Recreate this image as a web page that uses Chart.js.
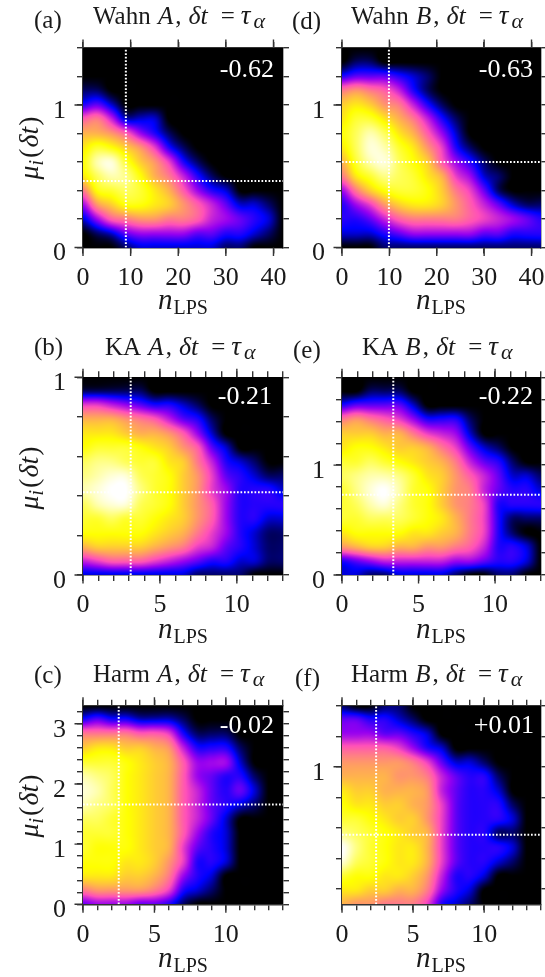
<!DOCTYPE html>
<html>
<head>
<meta charset="utf-8">
<title>LPS maps</title>
<script src="https://cdn.jsdelivr.net/npm/chart.js@4/dist/chart.umd.min.js"></script>
<style>
  html, body { margin: 0; padding: 0; background: #fff; }
  #page { position: relative; width: 545px; height: 977px; overflow: hidden; }
  canvas { position: absolute; }
</style>
</head>
<body>
<div id="page"></div>
<script>
// tick lists
const xMajorWahn = [0, 10, 20, 30, 40];
const xMinorWahn = [0, 10, 20, 30, 40];
const xMajorKA = [0, 5, 10];
const xMinorKA = [0, 1, 2, 3, 4, 5, 6, 7, 8, 9, 10, 11, 12, 13];
const xMajorHarm = [0, 5, 10];
const xMinorHarm = [0, 1, 2, 3, 4, 5, 6, 7, 8, 9, 10, 11, 12, 13, 14];
const yMajorWahn = [0, 1];
const yMinorWahn = [0, 0.2, 0.4, 0.6, 0.8, 1, 1.2, 1.4];
const yMajorKAA = [0, 1];
const yMinorKAA = [0, 0.2, 0.4, 0.6, 0.8, 1];
const yMajorKAB = [0, 1];
const yMinorKAB = [0, 0.2, 0.4, 0.6, 0.8, 1, 1.2, 1.4, 1.6, 1.8];
const yMajorHarmA = [0, 1, 2, 3];
const yMinorHarmA = [0, 0.2, 0.4, 0.6, 0.8, 1, 1.2, 1.4, 1.6, 1.8, 2, 2.2, 2.4, 2.6, 2.8, 3, 3.2];
const yMajorHarmB = [1];
const yMinorHarmB = [0.2, 0.4, 0.6, 0.8, 1, 1.2, 1.4];

// density, top row first, 0 = black ... 20 = white
const gridWahnA = [
  [0,0,0,0,0,0,0,0,0,0,0,0,0,0,0],
  [0,0,0,0,0,0,0,0,0,0,0,0,0,0,0],
  [0,0,0,0,0,0,0,0,0,0,0,0,0,0,0],
  [1,1,0,0,0,0,0,0,0,0,0,0,0,0,0],
  [3,4,2,0,0,0,0,0,0,0,0,0,0,0,0],
  [8,9,6,2,2,2,0,0,0,0,0,0,0,0,0],
  [11,11,10,8,5,3,1,0,0,0,0,0,0,0,0],
  [13,15,14,12,10,7,3,1,0,0,0,0,0,0,0],
  [14,18,19,15,12,10,7,3,1,0,0,0,0,0,0],
  [13,16,18,17,14,11,9,6,3,1,0,0,0,0,0],
  [9,14,15,16,15,13,11,8,5,3,2,0,0,0,0],
  [5,10,12,14,14,13,12,10,8,6,4,2,2,1,0],
  [2,5,8,9,10,10,9,9,8,6,5,4,3,2,0],
  [0,1,2,4,5,5,5,5,4,4,3,3,2,1,0],
  [0,0,0,1,2,2,2,2,2,2,1,1,0,0,0]
];
const gridWahnB = [
  [0,0,0,0,0,0,0,0,0,0,0,0,0,0,0],
  [0,1,1,0,0,0,0,0,0,0,0,0,0,0,0],
  [3,4,4,4,3,2,1,0,0,0,0,0,0,0,0],
  [9,10,9,8,6,3,1,0,0,0,0,0,0,0,0],
  [12,13,12,10,9,6,3,1,0,0,0,0,0,0,0],
  [13,15,15,13,11,9,6,3,1,0,0,0,0,0,0],
  [14,16,18,16,13,11,8,5,2,0,0,0,0,0,0],
  [13,16,19,18,15,13,10,7,3,1,0,0,0,0,0],
  [11,15,18,19,16,14,12,8,5,3,1,0,0,0,0],
  [9,13,15,17,16,15,13,11,7,5,2,1,0,0,0],
  [5,9,12,14,15,15,14,12,9,7,4,1,0,0,0],
  [3,5,7,10,12,13,13,12,10,8,6,4,2,1,1],
  [3,3,4,6,8,9,9,9,9,8,7,6,5,4,3],
  [2,2,2,3,4,5,5,5,5,5,4,4,3,3,3],
  [0,0,0,1,1,1,1,1,1,1,1,1,1,1,1]
];
const gridKAA = [
  [0,0,0,0,0,0,0,0,0,0,0,0,0,0,0],
  [1,1,1,1,1,0,0,0,0,0,0,0,0,0,0],
  [7,7,6,5,4,3,3,2,1,0,0,0,0,0,0],
  [11,11,11,10,9,8,6,4,3,1,0,0,0,0,0],
  [13,13,13,12,11,11,10,8,5,2,0,0,0,0,0],
  [14,15,15,15,14,13,12,10,8,4,2,0,0,0,0],
  [16,17,17,16,15,15,13,12,9,6,3,2,1,0,0],
  [17,18,19,19,16,15,14,12,10,7,4,3,2,1,1],
  [18,19,20,20,17,15,14,12,10,7,5,3,3,3,2],
  [16,18,19,19,16,15,14,12,10,8,5,3,3,3,3],
  [15,15,16,15,15,14,13,12,10,8,5,3,3,2,2],
  [14,14,14,14,14,13,12,11,9,7,5,3,2,1,1],
  [11,12,12,12,12,11,10,9,7,6,4,3,2,1,1],
  [6,7,8,8,8,7,6,5,4,3,3,2,2,1,1],
  [2,2,2,2,2,2,2,2,1,1,1,1,0,0,0]
];
const gridKAB = [
  [0,0,0,0,0,0,0,0,0,0,0,0,0,0,0],
  [0,0,1,1,1,0,0,0,0,0,0,0,0,0,0],
  [3,4,4,4,4,2,0,0,0,0,0,0,0,0,0],
  [9,10,9,8,7,5,3,3,3,1,0,0,0,0,0],
  [12,12,12,11,11,9,7,6,5,2,0,0,0,0,0],
  [13,14,14,13,12,12,11,9,7,4,2,1,0,0,0],
  [15,15,16,15,14,13,12,11,9,6,4,3,1,0,0],
  [16,17,18,18,17,15,13,12,10,8,6,4,2,2,1],
  [15,17,19,20,18,15,14,12,10,9,6,4,3,3,2],
  [15,16,18,19,17,15,14,12,10,9,7,3,3,3,3],
  [15,15,16,16,16,15,14,13,11,9,7,3,1,1,1],
  [13,14,14,14,14,13,13,12,11,9,7,3,1,0,0],
  [10,11,12,12,11,11,10,10,9,8,6,3,3,2,0],
  [3,4,5,6,6,6,6,6,5,5,4,3,3,2,0],
  [2,2,1,1,2,2,2,2,1,0,0,1,1,0,0]
];
const gridHarmA = [
  [0,0,0,0,0,0,0,0,0,0,0,0,0,0,0],
  [3,4,3,3,2,2,2,1,0,0,0,0,0,0,0],
  [9,9,9,9,8,8,7,3,1,1,1,0,0,0,0],
  [12,13,13,12,12,11,10,6,3,3,3,1,0,0,0],
  [15,15,15,14,13,12,11,8,5,5,5,2,0,0,0],
  [18,17,16,14,13,12,11,8,5,4,3,3,1,0,0],
  [19,18,16,14,13,12,11,8,6,4,3,4,2,0,0],
  [18,17,16,14,13,12,11,8,6,4,3,2,1,0,0],
  [16,16,15,14,13,12,11,8,6,4,2,0,0,0,0],
  [15,15,15,14,13,12,11,8,5,3,2,0,0,0,0],
  [15,14,14,14,13,12,11,7,4,3,2,0,0,0,0],
  [14,14,14,13,13,12,10,7,3,3,2,0,0,0,0],
  [13,13,13,12,12,11,9,5,3,2,0,0,0,0,0],
  [9,10,10,10,10,9,7,3,2,1,0,0,0,0,0],
  [4,5,5,5,4,4,3,1,0,0,0,0,0,0,0]
];
const gridHarmB = [
  [1,0,0,1,1,0,0,0,0,0,0,0,0,0,0],
  [4,4,3,3,2,1,0,0,0,0,0,0,0,0,0],
  [5,5,5,4,4,3,2,0,0,0,0,0,0,0,0],
  [8,8,8,8,7,5,3,2,0,0,0,0,0,0,0],
  [10,10,10,10,10,9,7,4,2,2,1,0,0,0,0],
  [11,11,11,11,10,10,9,6,4,3,3,1,0,0,0],
  [13,12,12,11,11,11,10,6,4,3,3,2,0,0,0],
  [14,13,13,12,12,11,10,7,4,3,3,3,1,0,0],
  [15,15,14,13,12,12,10,7,4,3,3,3,2,0,0],
  [17,16,15,14,13,12,11,7,4,3,3,1,1,0,0],
  [20,17,15,14,13,13,11,7,4,3,3,3,2,0,0],
  [19,16,15,14,13,13,11,7,4,3,3,2,1,0,0],
  [15,14,14,13,13,12,10,6,3,3,2,0,0,0,0],
  [13,13,12,12,11,11,9,5,3,2,0,0,0,0,0],
  [11,10,10,9,9,9,7,3,2,1,0,0,0,0,0]
];

// colour map stops: density, r, g, b
const colorStops = [
  [0, 0, 0, 0], [2.4, 0, 0, 255], [4.8, 150, 0, 240], [7.5, 255, 80, 185],
  [10.5, 255, 165, 90], [13.8, 255, 255, 0], [20, 255, 255, 255]
];

const serif = '"Liberation Serif", serif';
const tickFont = 26;

const panels = [
  { tag: '(a)', name: 'Wahn ', kind: 'A', stat: '-0.62', grid: gridWahnA, xMax: 42, yMin: 0, yMax: 1.4, vLine: 9, hLine: 0.467,
    xMajor: xMajorWahn, xMinor: xMinorWahn, yMajor: yMajorWahn, yMinor: yMinorWahn,
    box: [0, 0, 292, 325], plot: [83, 48, 283, 247.5], tagX: 34, tagY: 28, titleX: 93, titleY: 24, statX: 274, statY: 77, yTitle: 148, xTitle: 183, xTitleY: 309 },
  { tag: '(b)', name: 'KA ', kind: 'A', stat: '-0.21', grid: gridKAA, xMax: 13, yMin: 0, yMax: 1, vLine: 3.1, hLine: 0.418,
    xMajor: xMajorKA, xMinor: xMinorKA, yMajor: yMajorKAA, yMinor: yMinorKAA,
    box: [0, 325, 292, 325], plot: [83, 377.3, 283, 575], tagX: 34, tagY: 355, titleX: 105, titleY: 355, statX: 272, statY: 404, yTitle: 478, xTitle: 183, xTitleY: 638 },
  { tag: '(c)', name: 'Harm ', kind: 'A', stat: '-0.02', grid: gridHarmA, xMax: 14, yMin: 0, yMax: 3.3, vLine: 2.5, hLine: 1.66,
    xMajor: xMajorHarm, xMinor: xMinorHarm, yMajor: yMajorHarmA, yMinor: yMinorHarmA,
    box: [0, 650, 292, 327], plot: [83, 705.7, 283, 904.3], tagX: 34, tagY: 683, titleX: 93, titleY: 682, statX: 274, statY: 733, yTitle: 806, xTitle: 183, xTitleY: 967 },
  { tag: '(d)', name: 'Wahn ', kind: 'B', stat: '-0.63', grid: gridWahnB, xMax: 42, yMin: 0, yMax: 1.4, vLine: 9.9, hLine: 0.6,
    xMajor: xMajorWahn, xMinor: xMinorWahn, yMajor: yMajorWahn, yMinor: yMinorWahn,
    box: [285, 0, 260, 325], plot: [342, 48, 541, 247.5], tagX: 292, tagY: 29, titleX: 351, titleY: 24, statX: 533, statY: 77, xTitle: 441, xTitleY: 309 },
  { tag: '(e)', name: 'KA ', kind: 'B', stat: '-0.22', grid: gridKAB, xMax: 13, yMin: 0, yMax: 1.8, vLine: 3.35, hLine: 0.73,
    xMajor: xMajorKA, xMinor: xMinorKA, yMajor: yMajorKAB, yMinor: yMinorKAB,
    box: [285, 325, 260, 325], plot: [342, 377.3, 541, 575], tagX: 293, tagY: 358, titleX: 362, titleY: 355, statX: 533, statY: 404, xTitle: 441, xTitleY: 638 },
  { tag: '(f)', name: 'Harm ', kind: 'B', stat: '+0.01', grid: gridHarmB, xMax: 14, yMin: 0.1, yMax: 1.4, vLine: 2.4, hLine: 0.555,
    xMajor: xMajorHarm, xMinor: xMinorHarm, yMajor: yMajorHarmB, yMinor: yMinorHarmB,
    box: [285, 650, 260, 327], plot: [342, 705.7, 541, 904.3], tagX: 295, tagY: 686, titleX: 351, titleY: 682, statX: 534, statY: 733, xTitle: 441, xTitleY: 967 }
];

function densityColor(v) {
  for (let i = 1; i < colorStops.length; i++) {
    if (v <= colorStops[i][0]) {
      const a = colorStops[i - 1], b = colorStops[i];
      const t = (v - a[0]) / (b[0] - a[0]);
      return [a[1] + (b[1] - a[1]) * t, a[2] + (b[2] - a[2]) * t, a[3] + (b[3] - a[3]) * t];
    }
  }
  return [255, 255, 255];
}

function catmull(p0, p1, p2, p3, t) {
  return p1 + 0.5 * t * (p2 - p0 + t * (2 * p0 - 5 * p1 + 4 * p2 - p3 + t * (3 * (p1 - p2) + p3 - p0)));
}

function sampleGrid(grid, u, v) {
  const rows = grid.length, cols = grid[0].length;
  const cx = Math.min(Math.floor(u), cols - 2), cy = Math.min(Math.floor(v), rows - 2);
  const tx = u - cx, ty = v - cy;
  const at = (r, c) => grid[Math.max(0, Math.min(rows - 1, r))][Math.max(0, Math.min(cols - 1, c))];
  const line = [];
  for (let r = -1; r <= 2; r++) {
    line.push(catmull(at(cy + r, cx - 1), at(cy + r, cx), at(cy + r, cx + 1), at(cy + r, cx + 2), tx));
  }
  return Math.max(0, Math.min(20, catmull(line[0], line[1], line[2], line[3], ty)));
}

// heat map painted pixel by pixel through the chart's own scales
const heatPlugin = {
  id: 'heat',
  beforeDatasetsDraw(chart) {
    const p = chart.config.options.panel, a = chart.chartArea, sx = chart.scales.x, sy = chart.scales.y;
    const rows = p.grid.length, cols = p.grid[0].length;
    const x0 = Math.round(a.left), y0 = Math.round(a.top);
    const w = Math.round(a.right) - x0, h = Math.round(a.bottom) - y0;
    const img = chart.ctx.createImageData(w, h);
    for (let j = 0; j < h; j++) {
      const yv = sy.getValueForPixel(y0 + j + 0.5);
      const v = (p.yMax - yv) / (p.yMax - p.yMin) * (rows - 1);
      for (let i = 0; i < w; i++) {
        const xv = sx.getValueForPixel(x0 + i + 0.5);
        const u = xv / p.xMax * (cols - 1);
        const c = densityColor(sampleGrid(p.grid, Math.max(0, u), Math.max(0, v)));
        const k = (j * w + i) * 4;
        img.data[k] = c[0]; img.data[k + 1] = c[1]; img.data[k + 2] = c[2]; img.data[k + 3] = 255;
      }
    }
    chart.ctx.putImageData(img, x0, y0);
  }
};

// each run: text, font, drop below baseline, extra gap after it
function drawRuns(ctx, runs, x, y) {
  runs.forEach(r => {
    ctx.font = r[1];
    ctx.fillText(r[0], x, y + (r[2] || 0));
    x += ctx.measureText(r[0]).width + (r[3] || 0);
  });
  return x;
}

function runsWidth(ctx, runs) {
  let w = 0;
  runs.forEach(r => { ctx.font = r[1]; w += ctx.measureText(r[0]).width + (r[3] || 0); });
  return w;
}

// titles, axis names, correlation value and the longer major ticks
const textPlugin = {
  id: 'texts',
  afterDraw(chart) {
    const p = chart.config.options.panel, ctx = chart.ctx;
    const ox = p.box[0], oy = p.box[1];
    const roman = size => size + 'px ' + serif, ital = size => 'italic ' + size + 'px ' + serif;
    ctx.save();

    // major ticks stick out further
    ctx.strokeStyle = '#333';
    ctx.lineWidth = 1.4;
    ctx.beginPath();
    const a = chart.chartArea;
    p.xMajor.forEach(v => {
      const px = chart.scales.x.getPixelForValue(v);
      ctx.moveTo(px, a.bottom); ctx.lineTo(px, a.bottom + 8.5);
      ctx.moveTo(px, a.top); ctx.lineTo(px, a.top - 8.5);
    });
    p.yMajor.forEach(v => {
      const py = chart.scales.y.getPixelForValue(v);
      ctx.moveTo(a.left, py); ctx.lineTo(a.left - 8.5, py);
    });
    ctx.stroke();

    ctx.textBaseline = 'alphabetic';
    ctx.fillStyle = '#1a1a1a';
    ctx.textAlign = 'left';
    drawRuns(ctx, [[p.tag, roman(25)]], p.tagX - ox, p.tagY - oy);
    drawRuns(ctx, [
      [p.name, roman(25), 0, 1], [p.kind, ital(25), 0, 2], [',', roman(25), 0, 7], ['δt', ital(26), 0, 13],
      ['=', roman(25), 0, 6], ['τ', ital(27), 0, 3], ['α', ital(22), 4]
    ], p.titleX - ox, p.titleY - oy);

    const nameRuns = [['n', ital(29), 0, 1], ['LPS', roman(20), 5]];
    drawRuns(ctx, nameRuns, p.xTitle - ox - runsWidth(ctx, nameRuns) / 2, p.xTitleY - oy);

    if (p.yTitle) {
      const muRuns = [['μ', ital(28)], ['i', ital(20), 5, 2], ['(', roman(28), 0, 1], ['δt', ital(28), 0, 1], [')', roman(28)]];
      ctx.save();
      ctx.translate(38, p.yTitle - oy);
      ctx.rotate(-Math.PI / 2);
      drawRuns(ctx, muRuns, -runsWidth(ctx, muRuns) / 2, 0);
      ctx.restore();
    }

    ctx.fillStyle = '#fff';
    ctx.textAlign = 'right';
    ctx.font = roman(26);
    ctx.fillText(p.stat, p.statX - ox, p.statY - oy);
    ctx.restore();
  }
};

panels.forEach(p => {
  const cv = document.createElement('canvas');
  cv.width = p.box[2];
  cv.height = p.box[3];
  cv.style.left = p.box[0] + 'px';
  cv.style.top = p.box[1] + 'px';
  document.getElementById('page').appendChild(cv);

  const mLeft = p.plot[0] - p.box[0], mTop = p.plot[1] - p.box[1];
  const mRight = p.box[0] + p.box[2] - p.plot[2], mBottom = p.box[1] + p.box[3] - p.plot[3];

  const axis = (position, min, max, minor, major, margin, labelled) => {
    const vertical = position === 'left' || position === 'right';
    return {
      type: 'linear',
      position: position,
      min: min,
      max: max,
      afterBuildTicks: s => { s.ticks = minor.map(v => ({ value: v })); },
      afterFit: s => {
        if (vertical) s.width = margin; else s.height = margin;
        s.paddingLeft = s.paddingRight = s.paddingTop = s.paddingBottom = 0;
      },
      border: { display: true, color: '#333', width: 1.4 },
      grid: { drawOnChartArea: false, drawTicks: true, tickLength: 6, color: '#333', lineWidth: 1.4 },
      ticks: {
        display: labelled,
        autoSkip: false,
        maxRotation: 0,
        padding: vertical ? 11 : 9,
        color: '#1a1a1a',
        // the blank first line moves the y labels a little below their tick, as in the figure
        font: vertical ? { family: serif, size: tickFont, lineHeight: 12 / tickFont } : { family: serif, size: tickFont },
        callback: v => {
          if (!major.includes(v)) return '';
          return vertical ? ['', String(v)] : String(v);
        }
      }
    };
  };

  new Chart(cv, {
    type: 'scatter',
    data: {
      datasets: [
        { data: [{ x: p.vLine, y: p.yMin }, { x: p.vLine, y: p.yMax }] },
        { data: [{ x: 0, y: p.hLine }, { x: p.xMax, y: p.hLine }] }
      ].map(d => Object.assign(d, {
        showLine: true, pointRadius: 0, borderColor: '#fff', borderWidth: 2,
        borderDash: [1.7, 1.8], borderDashOffset: 0
      }))
    },
    options: {
      panel: p,
      responsive: false,
      animation: false,
      events: [],
      layout: { padding: 0 },
      plugins: { legend: { display: false }, tooltip: { enabled: false }, title: { display: false } },
      scales: {
        x: axis('bottom', 0, p.xMax, p.xMinor, p.xMajor, mBottom, true),
        x2: axis('top', 0, p.xMax, p.xMinor, p.xMajor, mTop, false),
        y: axis('left', p.yMin, p.yMax, p.yMinor, p.yMajor, mLeft, true),
        y2: axis('right', p.yMin, p.yMax, p.yMinor, p.yMajor, mRight, false)
      }
    },
    plugins: [heatPlugin, textPlugin]
  });
});
</script>
</body>
</html>
